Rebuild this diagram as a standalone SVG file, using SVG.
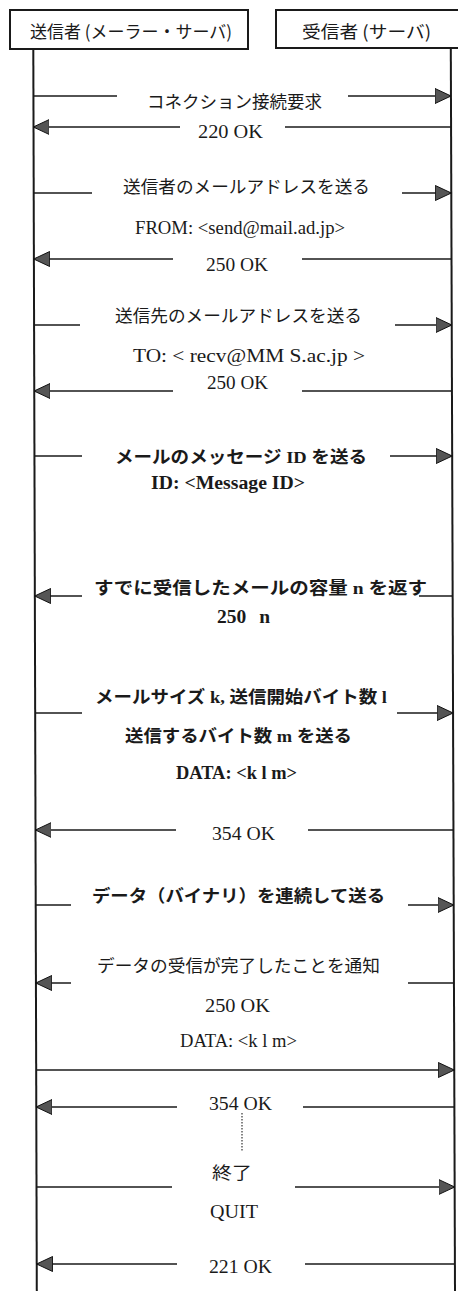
<svg xmlns="http://www.w3.org/2000/svg" width="458" height="1291" viewBox="0 0 458 1291">
<style>
.bg{fill:#ffffff}
.box{fill:#ffffff;stroke:#1a1a1a;stroke-width:2}
.life{stroke:#1a1a1a;stroke-width:2;fill:none}
.msg{stroke:#1a1a1a;stroke-width:1.6;fill:none}
.dot{stroke:#333;stroke-width:1.2;stroke-dasharray:1.5 1.5;fill:none}
text{font-family:"Liberation Serif","Noto Sans CJK JP",serif;fill:#1a1a1a}
.j{font-size:17.5px}
.l{font-size:18.5px}
.b{font-weight:bold}
.h{font-family:"Noto Sans CJK JP","Liberation Sans",sans-serif;font-size:17.5px}
</style>
<defs>
<marker id="ah" markerUnits="userSpaceOnUse" markerWidth="17" markerHeight="16" refX="16" refY="8" orient="auto">
<path d="M0,0.5 L16,8 L0,15.5 Z" fill="#555" stroke="#111" stroke-width="1"/>
</marker>
</defs>
<rect class="bg" x="0" y="0" width="458" height="1291"/>

<g id="sender">
<rect class="box" x="10" y="10" width="238" height="39"/>
<text class="h" x="30" y="38" textLength="202" lengthAdjust="spacingAndGlyphs">送信者 (メーラー・サーバ)</text>
</g>
<g id="receiver">
<rect class="box" x="276" y="10" width="200" height="38"/>
<text class="h" x="302" y="38" textLength="129" lengthAdjust="spacingAndGlyphs">受信者 (サーバ)</text>
</g>

<g id="lifelines">
<line class="life" x1="33.3" y1="49" x2="36.8" y2="1291"/>
<line class="life" x1="450.8" y1="48" x2="455" y2="1291"/>
</g>

<g id="connectors">
<line class="msg" x1="33.3" y1="96" x2="117" y2="96"/>
<line class="msg" x1="348" y1="96" x2="451" y2="96" marker-end="url(#ah)"/>
<line class="msg" x1="451" y1="127" x2="285" y2="127"/>
<line class="msg" x1="180" y1="127" x2="33.3" y2="127" marker-end="url(#ah)"/>
<line class="msg" x1="33.5" y1="193" x2="92" y2="193"/>
<line class="msg" x1="402" y1="193" x2="451.3" y2="193" marker-end="url(#ah)"/>
<line class="msg" x1="451.5" y1="259" x2="302" y2="259"/>
<line class="msg" x1="173" y1="259" x2="33.7" y2="259" marker-end="url(#ah)"/>
<line class="msg" x1="33.9" y1="325" x2="80" y2="325"/>
<line class="msg" x1="395" y1="325" x2="451.8" y2="325" marker-end="url(#ah)"/>
<line class="msg" x1="452" y1="391" x2="302" y2="391"/>
<line class="msg" x1="173" y1="391" x2="34.1" y2="391" marker-end="url(#ah)"/>
<line class="msg" x1="34.3" y1="456" x2="82" y2="456"/>
<line class="msg" x1="390" y1="456" x2="452.2" y2="456" marker-end="url(#ah)"/>
<line class="msg" x1="452.7" y1="596" x2="419" y2="596"/>
<line class="msg" x1="82" y1="596" x2="34.7" y2="596" marker-end="url(#ah)"/>
<line class="msg" x1="35" y1="713" x2="82" y2="713"/>
<line class="msg" x1="397" y1="713" x2="453.1" y2="713" marker-end="url(#ah)"/>
<line class="msg" x1="453.5" y1="830" x2="308" y2="830"/>
<line class="msg" x1="176" y1="830" x2="35.4" y2="830" marker-end="url(#ah)"/>
<line class="msg" x1="35.6" y1="905" x2="71" y2="905"/>
<line class="msg" x1="408" y1="905" x2="453.8" y2="905" marker-end="url(#ah)"/>
<line class="msg" x1="454" y1="983" x2="408" y2="983"/>
<line class="msg" x1="71" y1="983" x2="35.8" y2="983" marker-end="url(#ah)"/>
<line class="msg" x1="36" y1="1070" x2="454.3" y2="1070" marker-end="url(#ah)"/>
<line class="msg" x1="454.4" y1="1107" x2="303" y2="1107"/>
<line class="msg" x1="177" y1="1107" x2="36.1" y2="1107" marker-end="url(#ah)"/>
<line class="dot" x1="242" y1="1113" x2="242" y2="1152"/>
<line class="msg" x1="36.4" y1="1187" x2="172" y2="1187"/>
<line class="msg" x1="295" y1="1187" x2="454.7" y2="1187" marker-end="url(#ah)"/>
<line class="msg" x1="455" y1="1264" x2="305" y2="1264"/>
<line class="msg" x1="177" y1="1264" x2="36.6" y2="1264" marker-end="url(#ah)"/>
</g>

<g id="labels">
<text class="j" x="147" y="108" textLength="175" lengthAdjust="spacingAndGlyphs">コネクション接続要求</text>
<text class="l" x="198" y="138" textLength="65" lengthAdjust="spacingAndGlyphs">220 OK</text>
<text class="j" x="123" y="193" textLength="247" lengthAdjust="spacingAndGlyphs">送信者のメールアドレスを送る</text>
<text class="l" x="135" y="234" textLength="210" lengthAdjust="spacingAndGlyphs">FROM: &lt;send@mail.ad.jp&gt;</text>
<text class="l" x="206" y="271" textLength="62" lengthAdjust="spacingAndGlyphs">250 OK</text>
<text class="j" x="115" y="322" textLength="247" lengthAdjust="spacingAndGlyphs">送信先のメールアドレスを送る</text>
<text class="l" x="133" y="362" textLength="232" lengthAdjust="spacingAndGlyphs">TO: &lt; recv@MM S.ac.jp &gt;</text>
<text class="l" x="207" y="389" textLength="61" lengthAdjust="spacingAndGlyphs">250 OK</text>
<text class="j b" x="115" y="463" textLength="252" lengthAdjust="spacingAndGlyphs">メールのメッセージ ID を送る</text>
<text class="l b" x="151" y="489" textLength="154" lengthAdjust="spacingAndGlyphs">ID: &lt;Message ID&gt;</text>
<text class="j b" x="94" y="594" textLength="333" lengthAdjust="spacingAndGlyphs">すでに受信したメールの容量 n を返す</text>
<text class="b" x="217" y="623" font-size="19.5" style="word-spacing:8px">250 n</text>
<text class="j b" x="95" y="703" textLength="292" lengthAdjust="spacingAndGlyphs">メールサイズ k, 送信開始バイト数 l</text>
<text class="j b" x="125" y="742" textLength="227" lengthAdjust="spacingAndGlyphs">送信するバイト数 m を送る</text>
<text class="l b" x="176" y="779" textLength="121" lengthAdjust="spacingAndGlyphs">DATA: &lt;k l m&gt;</text>
<text class="l" x="212" y="840" textLength="63" lengthAdjust="spacingAndGlyphs">354 OK</text>
<text class="j b" x="92" y="902" textLength="293" lengthAdjust="spacingAndGlyphs">データ（バイナリ）を連続して送る</text>
<text class="j" x="97" y="972" textLength="283" lengthAdjust="spacingAndGlyphs">データの受信が完了したことを通知</text>
<text class="l" x="205" y="1012" textLength="65" lengthAdjust="spacingAndGlyphs">250 OK</text>
<text class="l" x="180" y="1047" textLength="117" lengthAdjust="spacingAndGlyphs">DATA: &lt;k l m&gt;</text>
<text class="l" x="209" y="1110" textLength="63" lengthAdjust="spacingAndGlyphs">354 OK</text>
<text class="j" x="212" y="1179" textLength="40" lengthAdjust="spacingAndGlyphs">終了</text>
<text class="l" x="210" y="1218" textLength="48" lengthAdjust="spacingAndGlyphs">QUIT</text>
<text class="l" x="209" y="1273" textLength="63" lengthAdjust="spacingAndGlyphs">221 OK</text>
</g>
</svg>
